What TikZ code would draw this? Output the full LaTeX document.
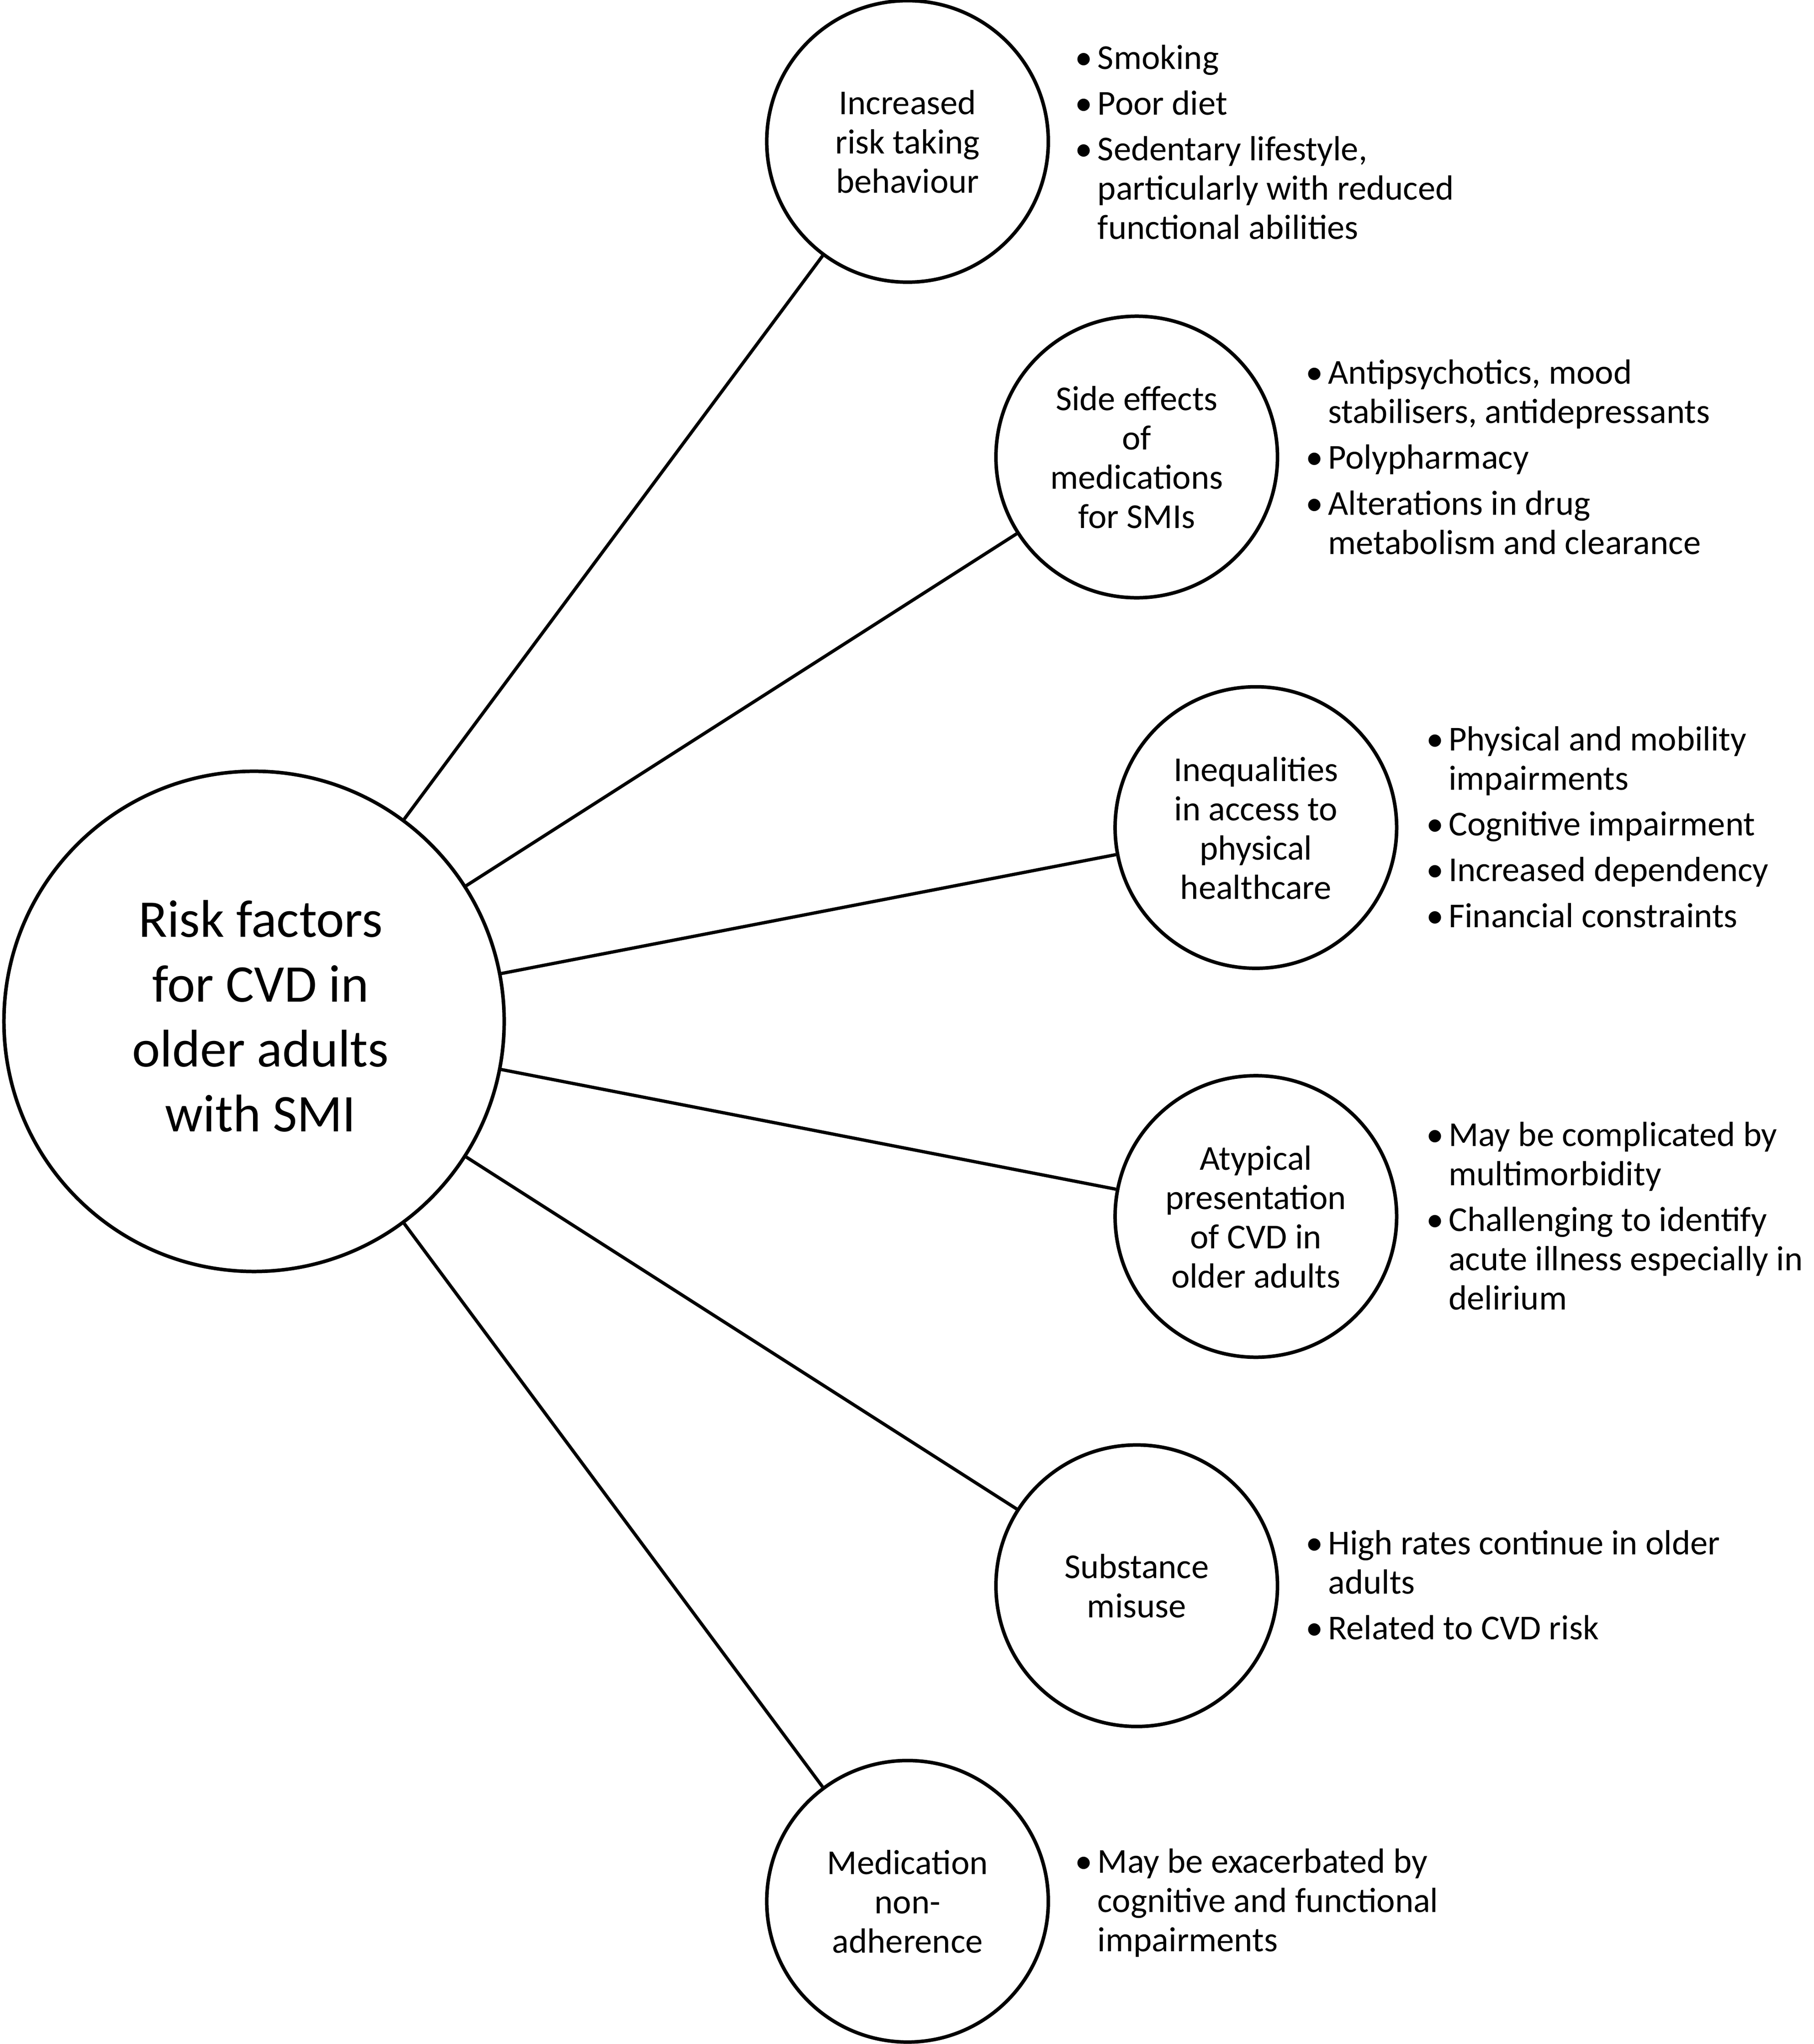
\documentclass[tikz,border=0pt]{standalone}
\usepackage{fontspec}
\setmainfont{Carlito}
\newcommand\bul{\llap{\makebox[21pt][c]{\textbullet}}}
\newcommand\topstrut{\rule{0pt}{28pt}}
\tikzset{
  bigc/.style={circle, draw, line width=2.7pt, minimum size=382pt, inner sep=0pt},
  bigtext/.style={inner sep=0pt, align=center, font=\fontsize{40.5}{49.5}\selectfont},
  smallc/.style={circle, draw, line width=2.7pt, minimum size=215pt, inner sep=0pt, align=center, font=\fontsize{26.7}{30}\selectfont},
  blist/.style={anchor=north west, inner sep=0pt, align=left, font=\fontsize{26.7}{30}\selectfont},
  link/.style={line width=2.5pt},
}
\begin{document}
\begin{tikzpicture}[x=1pt,y=-1pt]
\fill[white] (0,0) rectangle (1385,1561);
\useasboundingbox (0,0) rectangle (1385,1561);

\node[bigc] (big) at (194,780) {};
\node[bigtext] (bigt) at (199,780) {\strut Risk factors\\for CVD in\\older adults\\with SMI\strut};

\node[smallc] (c1) at (693,108) {\topstrut Increased\\risk taking\\behaviour\strut};
\node[smallc] (c2) at (868,349) {\topstrut Side effects\\of\\medications\\for SMIs\strut};
\node[smallc] (c3) at (959,632) {\topstrut Inequalities\\in access to\\physical\\healthcare\strut};
\node[smallc] (c4) at (959,929) {\topstrut Atypical\\presentation\\of CVD in\\older adults\strut};
\node[smallc] (c5) at (868,1211) {\topstrut Substance\\misuse\strut};
\node[smallc] (c6) at (693,1452) {\topstrut Medication\\non-\\adherence\strut};

\draw[link] (big) -- (c1);
\draw[link] (big) -- (c2);
\draw[link] (big) -- (c3);
\draw[link] (big) -- (c4);
\draw[link] (big) -- (c5);
\draw[link] (big) -- (c6);

\node[blist] (l1) at (838,31.5) {\strut\bul Smoking\\[5pt]\bul Poor diet\\[5pt]\bul Sedentary lifestyle,\\particularly with reduced\\functional abilities};
\node[blist] (l2) at (1014,272) {\strut\bul Antipsychotics, mood\\stabilisers, antidepressants\\[5pt]\bul Polypharmacy\\[5pt]\bul Alterations in drug\\metabolism and clearance};
\node[blist] (l3) at (1106,552) {\strut\bul Physical and mobility\\impairments\\[5pt]\bul Cognitive impairment\\[5pt]\bul Increased dependency\\[5pt]\bul Financial constraints};
\node[blist] (l4) at (1106,854) {\strut\bul May be complicated by\\multimorbidity\\[5pt]\bul Challenging to identify\\acute illness especially in\\delirium};
\node[blist] (l5) at (1014,1166) {\strut\bul High rates continue in older\\adults\\[5pt]\bul Related to CVD risk};
\node[blist] (l6) at (838,1409) {\strut\bul May be exacerbated by\\cognitive and functional\\impairments};
\end{tikzpicture}
\end{document}
